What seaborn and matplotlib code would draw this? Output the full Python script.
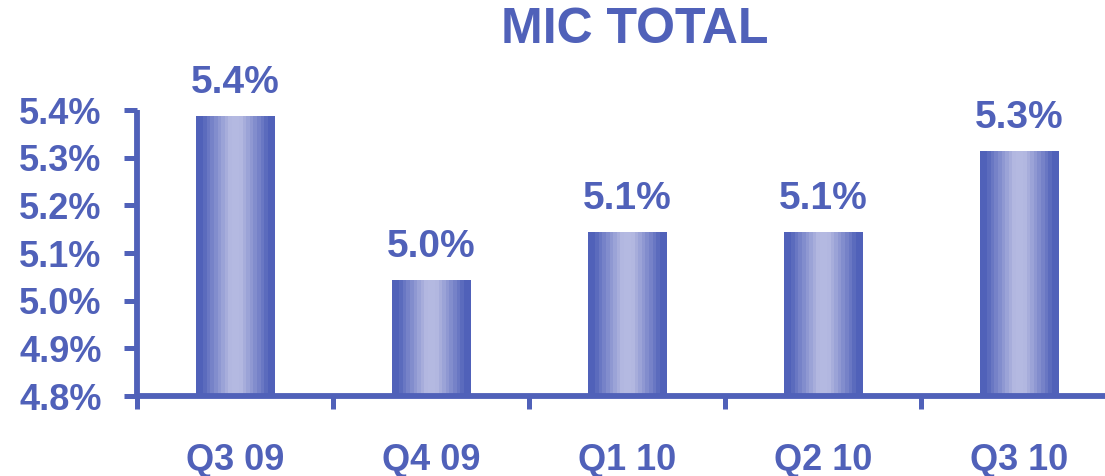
import numpy as np
import matplotlib
matplotlib.use("Agg")
import matplotlib.pyplot as plt
import matplotlib.colors as mcolors
from matplotlib.ticker import FixedLocator, FuncFormatter
import seaborn as sns

categories = ["Q3 09", "Q4 09", "Q1 10", "Q2 10", "Q3 10"]
values = [5.386, 5.043, 5.143, 5.143, 5.313]
y_ticks = [4.8, 4.9, 5.0, 5.1, 5.2, 5.3, 5.4]
title = "MIC TOTAL"

DARK = "#5061B9"
LIGHT = "#B4B9E1"

sns.set_theme(style="white")
plt.rcParams["font.family"] = ["Liberation Sans", "DejaVu Sans"]
plt.rcParams["font.weight"] = "bold"

fig = plt.figure(figsize=(11.05, 4.76), dpi=100)
ax = fig.add_axes([137 / 1105, 80 / 476, 980 / 1105, 286 / 476])

sns.barplot(x=categories, y=values, color=DARK, width=0.4, ax=ax,
            saturation=1, edgecolor="none")

YMIN, YMAX = 4.8, 5.4
ax.set_ylim(YMIN, YMAX)
ax.set_xlim(-0.5, 4.5)

# gradient fill for bars (dark edges, light centre, banded)
n = 22
t = np.linspace(0, 1, n)
prof = np.clip(1 - np.abs(t - 0.5) / 0.5, 0, 1)
prof = np.clip((prof - 0.12) / 0.75, 0, 1) ** 0.9
cmap = mcolors.LinearSegmentedColormap.from_list("g", [DARK, LIGHT])
grad = prof[np.newaxis, :]
for p in list(ax.patches):
    x0, w = p.get_x(), p.get_width()
    top = p.get_y() + p.get_height()
    ax.imshow(grad, extent=[x0, x0 + w, YMIN, top], aspect="auto",
              cmap=cmap, vmin=0, vmax=1, interpolation="nearest",
              zorder=p.get_zorder() + 0.1)
ax.set_ylim(YMIN, YMAX)
ax.set_xlim(-0.5, 4.5)

# value labels
for i, v in enumerate(values):
    ax.annotate(f"{v:.1f}%", xy=(i, v), xytext=(0, 17), textcoords="offset points",
                ha="center", va="baseline", fontsize=28, fontweight="bold", color=DARK)

# axes styling
for s in ["top", "right"]:
    ax.spines[s].set_visible(False)
for s in ["left", "bottom"]:
    ax.spines[s].set_color(DARK)
    ax.spines[s].set_linewidth(4.2)
    ax.spines[s].set_capstyle("butt")
    ax.spines[s].set_zorder(5)

ax.yaxis.set_major_locator(FixedLocator(y_ticks))
ax.yaxis.set_major_formatter(FuncFormatter(lambda v, _: f"{v:.1f}%"))
ax.tick_params(axis="y", which="major", direction="out", length=9.5, width=3.6,
               color=DARK, labelcolor=DARK, labelsize=26, pad=16, left=True)

ax.set_xticks(range(len(categories)))
ax.set_xticklabels(categories)
ax.xaxis.set_minor_locator(FixedLocator(np.arange(-0.5, len(categories), 1.0)))
ax.tick_params(axis="x", which="major", length=0, labelcolor=DARK, labelsize=26, pad=34)
ax.tick_params(axis="x", which="minor", direction="out", length=9, width=3.6,
               color=DARK, bottom=True)
for lab in ax.get_xticklabels() + ax.get_yticklabels():
    lab.set_fontweight("bold")
ax.set_xlabel("")
ax.set_ylabel("")

fig.text(635 / 1105, 1 - 30 / 476, title, ha="center", va="center",
         fontsize=36, fontweight="bold", color=DARK)

fig.savefig("out.png", dpi=100)
